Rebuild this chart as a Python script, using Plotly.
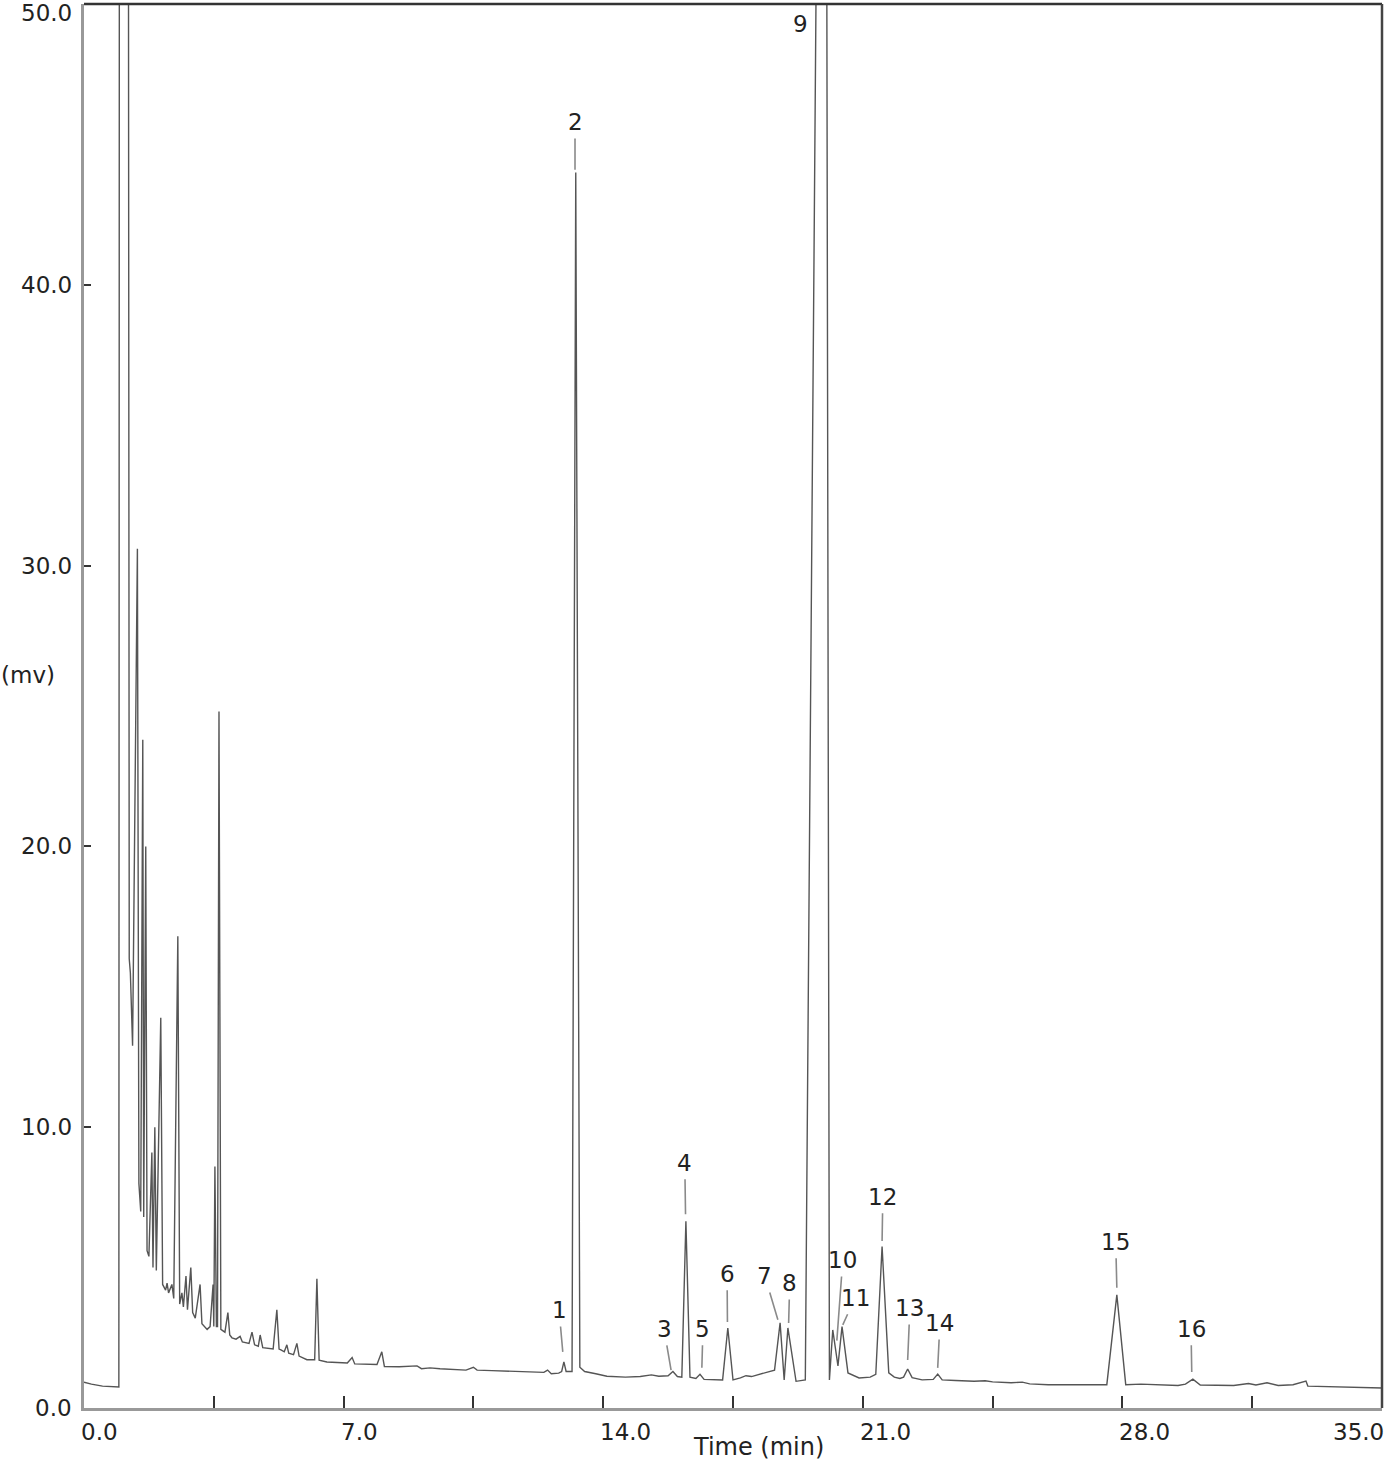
import plotly.graph_objects as go

# ---------------- data ----------------
time_min = [
    0.00, 0.20, 0.50, 0.93,
    0.94, 0.97, 1.16, 1.22, 1.25, 1.31, 1.44, 1.48, 1.53, 1.585, 1.61, 1.665, 1.70,
    1.75, 1.83, 1.86, 1.91, 1.95, 2.07, 2.12, 2.20, 2.24, 2.28, 2.37, 2.42, 2.53, 2.58,
    2.64, 2.68, 2.75, 2.79, 2.88, 2.93, 3.00, 3.13, 3.18, 3.32, 3.40, 3.48, 3.50, 3.53,
    3.57, 3.60, 3.64, 3.69, 3.80, 3.88, 3.93, 3.99, 4.10, 4.21, 4.27, 4.45, 4.53, 4.60,
    4.70, 4.75, 4.82, 5.10, 5.20, 5.26, 5.31, 5.40, 5.47, 5.52, 5.65, 5.74, 5.80, 6.01,
    6.22, 6.28, 6.34, 6.55, 7.10, 7.23, 7.30, 7.90, 8.03, 8.10, 8.50, 8.98, 9.10, 9.33,
    9.60, 10.00, 10.30, 10.50, 10.60, 11.00, 11.50, 12.00, 12.40, 12.50, 12.60, 12.80,
    12.88, 12.94, 13.00, 13.16, 13.26, 13.37, 13.50, 13.80, 14.10, 14.60, 15.00, 15.30,
    15.50, 15.75, 15.88, 16.00, 16.12, 16.23, 16.34, 16.50, 16.61, 16.72, 17.00, 17.22,
    17.36, 17.50, 17.70, 17.85, 18.00, 18.20, 18.35, 18.50, 18.62, 18.77, 18.88, 18.98,
    19.20, 19.45, 19.74, 19.80, 20.00, 20.03, 20.10, 20.19, 20.33, 20.44, 20.60, 20.90,
    21.20, 21.35, 21.52, 21.70, 21.85, 22.00, 22.10, 22.21, 22.33, 22.60, 22.90, 23.02,
    23.14, 23.50, 24.00, 24.30, 24.50, 25.00, 25.30, 25.50, 26.00, 26.50, 27.00, 27.58,
    27.85, 28.09, 28.50, 29.00, 29.50, 29.70, 29.90, 30.10, 30.50, 31.00, 31.40, 31.60,
    31.90, 32.20, 32.60, 32.95, 33.00, 33.50, 34.00, 34.50, 35.00,
]
signal_mv = [
    0.92, 0.85, 0.78, 0.75,
    0.75, 120.0, 120.0, 16.0, 15.5, 12.9, 30.6, 8.0, 7.0, 23.8, 6.8, 20.0, 5.6,
    5.4, 9.1, 5.0, 10.0, 4.9, 13.9, 4.4, 4.2, 4.45, 4.1, 4.4, 3.9, 16.8, 3.7,
    4.1, 3.6, 4.7, 3.5, 5.0, 3.4, 3.2, 4.4, 3.0, 2.8, 2.9, 4.4, 2.9, 8.6,
    2.9, 2.9, 24.8, 2.8, 2.7, 3.4, 2.6, 2.5, 2.45, 2.55, 2.35, 2.3, 2.7, 2.25,
    2.2, 2.6, 2.15, 2.1, 3.5, 2.1, 2.07, 2.0, 2.25, 1.95, 1.9, 2.3, 1.85, 1.72,
    1.72, 4.6, 1.7, 1.64, 1.6, 1.8, 1.57, 1.55, 2.0, 1.48, 1.47, 1.5, 1.4, 1.43,
    1.4, 1.38, 1.35, 1.45, 1.35, 1.33, 1.3, 1.27, 1.27, 1.35, 1.22, 1.24,
    1.3, 1.64, 1.3, 1.3, 44.0, 1.45, 1.3, 1.22, 1.13, 1.10, 1.12, 1.18,
    1.13, 1.15, 1.30, 1.12, 1.10, 6.65, 1.10, 1.05, 1.20, 1.02, 1.00, 1.00,
    2.85, 1.00, 1.07, 1.15, 1.12, 1.20, 1.25, 1.30, 1.35, 3.03, 1.00, 2.85,
    0.95, 1.00, 50.5, 120.0, 120.0, 50.5, 1.00, 2.78, 1.50, 2.90, 1.25, 1.07,
    1.10, 1.20, 5.75, 1.25, 1.10, 1.05, 1.10, 1.39, 1.08, 1.00, 1.02, 1.21,
    1.00, 0.98, 0.95, 0.97, 0.93, 0.90, 0.92, 0.86, 0.83, 0.83, 0.82, 0.83,
    4.03, 0.83, 0.85, 0.82, 0.80, 0.85, 1.03, 0.82, 0.82, 0.80, 0.87, 0.82,
    0.90, 0.80, 0.83, 0.96, 0.78, 0.76, 0.74, 0.73, 0.71,
]

# peak labels: label text, peak apex (time, mV), label position (time, mV)
peak_names = ["1", "2", "3", "4", "5", "6", "7", "8", "10", "11", "12", "13", "14", "15", "16"]
peak_time = [12.91, 13.24, 15.83, 16.22, 16.66, 17.35, 18.71, 19.00, 20.30, 20.46, 21.52, 22.21, 23.02, 27.85, 29.87]
peak_tip = [2.0, 44.1, 1.35, 6.9, 1.43, 3.06, 3.14, 3.03, 2.4, 2.96, 5.95, 1.71, 1.43, 4.28, 1.28]
label_time = [12.81, 13.24, 15.64, 16.20, 16.69, 17.34, 18.36, 19.03, 20.46, 20.79, 21.54, 22.27, 23.08, 27.82, 29.85]
label_mv = [3.49, 45.8, 2.82, 8.73, 2.82, 4.78, 4.70, 4.45, 5.27, 3.92, 7.52, 3.56, 3.03, 5.92, 2.82]
offscale_name = "9"
offscale_time = 19.33
offscale_mv = 49.3

x_tick_vals = [0, 3.5, 7, 10.5, 14, 17.5, 21, 24.5, 28, 31.5, 35]
x_label_vals = [0, 7, 14, 21, 28, 35]
y_tick_vals = [0, 10, 20, 30, 40, 50]

FONT = "DejaVu Sans"
TEXT = "#222222"

fig = go.Figure()
fig.add_trace(go.Scatter(
    x=time_min, y=signal_mv, mode="lines",
    line=dict(color="#555555", width=1.4),
    hoverinfo="skip", showlegend=False,
))

annotations = []
for name, pt, tip, lt, lm in zip(peak_names, peak_time, peak_tip, label_time, label_mv):
    annotations.append(dict(
        x=pt, y=tip, xref="x", yref="y",
        ax=lt, ay=lm, axref="x", ayref="y",
        text=name, showarrow=True, arrowhead=0, arrowwidth=1.6,
        arrowcolor="#8a8a8a", standoff=0, startstandoff=2,
        font=dict(family=FONT, size=23, color=TEXT),
    ))
annotations.append(dict(
    x=offscale_time, y=offscale_mv, xref="x", yref="y", text=offscale_name,
    showarrow=False, font=dict(family=FONT, size=23, color=TEXT),
))

# x tick labels
for v in x_label_vals:
    last = v == x_label_vals[-1]
    annotations.append(dict(
        x=v, y=0, xref="x", yref="paper", yanchor="top",
        xanchor="right" if last else "left",
        xshift=4 if last else -5, yshift=-9,
        text=f"{v:.1f}", showarrow=False,
        font=dict(family=FONT, size=23, color=TEXT),
    ))

# y tick labels
for v in y_tick_vals:
    top = v == y_tick_vals[-1]
    annotations.append(dict(
        x=0, y=v, xref="paper", yref="y", xanchor="right",
        yanchor="top" if top else "middle", yshift=6 if top else 0,
        xshift=-10, text=f"{v:.1f}", showarrow=False,
        font=dict(family=FONT, size=23, color=TEXT),
    ))

annotations.append(dict(
    x=0.52, y=0, xref="paper", yref="paper", yanchor="top", xanchor="center",
    yshift=-23, text="Time (min)", showarrow=False,
    font=dict(family=FONT, size=24, color=TEXT),
))
annotations.append(dict(
    x=0, y=26.1, xref="paper", yref="y", xanchor="center", xshift=-56,
    text="(mv)", showarrow=False,
    font=dict(family=FONT, size=23, color=TEXT),
))

fig.update_layout(
    width=1388, height=1461,
    margin=dict(l=84, r=6, t=4, b=53),
    paper_bgcolor="white", plot_bgcolor="white",
    showlegend=False,
    annotations=annotations,
    shapes=[
        dict(type="line", xref="paper", yref="paper", x0=0, x1=1, y0=1, y1=1,
             line=dict(color="#333333", width=2.5)),
        dict(type="line", xref="paper", yref="paper", x0=1, x1=1, y0=0, y1=1,
             line=dict(color="#444444", width=2.5)),
    ],
    xaxis=dict(
        range=[0, 35], tickvals=x_tick_vals, showticklabels=False,
        ticks="inside", ticklen=12, tickwidth=2, tickcolor="#333333",
        showline=True, linecolor="#999999", linewidth=3,
        showgrid=False, zeroline=False,
    ),
    yaxis=dict(
        range=[0, 50], tickvals=y_tick_vals, showticklabels=False,
        ticks="inside", ticklen=7, tickwidth=2, tickcolor="#333333",
        showline=True, linecolor="#999999", linewidth=3,
        showgrid=False, zeroline=False,
    ),
)

fig.write_html(
    "out.html",
    config={"displayModeBar": False},
    post_script="document.body.style.margin='0';document.body.style.overflow='hidden';",
)
